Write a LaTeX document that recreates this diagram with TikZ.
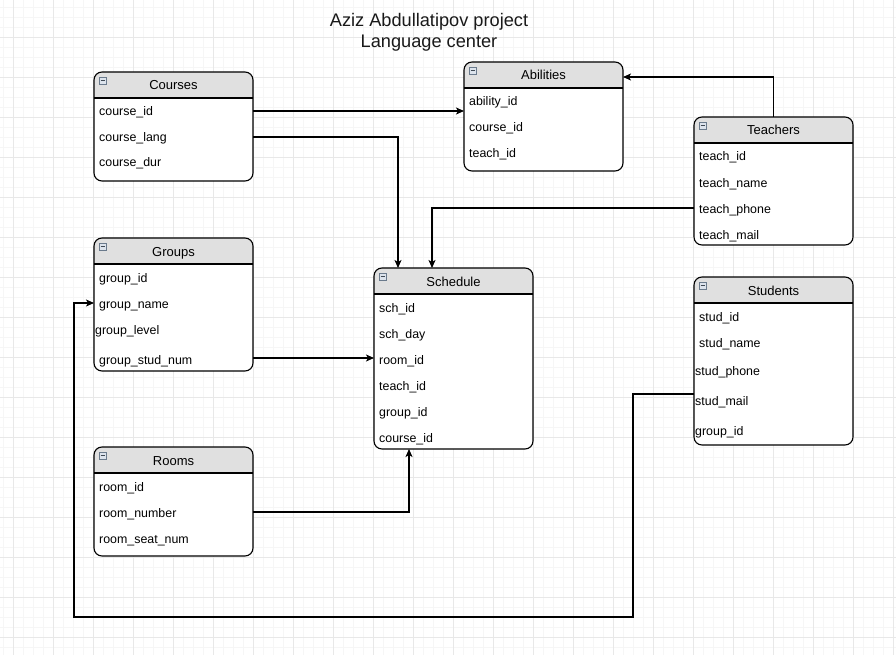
\documentclass[tikz,border=0pt]{standalone}
\usepackage{fontspec}
\setmainfont{Liberation Sans}
\usetikzlibrary{arrows.meta}
\definecolor{headfill}{HTML}{E0E0E0}
\definecolor{gridminor}{HTML}{F6F6F6}
\definecolor{gridmajor}{HTML}{E8E8E8}
\definecolor{iconfill}{HTML}{DCE3EC}
\definecolor{iconline}{HTML}{6A7A8C}
\tikzset{
  tbl/.style={rectangle, rounded corners=8pt, fill=white, minimum width=159pt, inner sep=0pt, outer sep=0pt},
  fld/.style={anchor=base west, inner sep=0pt, font=\fontsize{12.4}{14}\selectfont},
  ttl/.style={anchor=base, inner sep=0pt, font=\fontsize{13}{15}\selectfont},
  conn/.style={line width=1.1pt, -{Stealth[length=8pt,width=7pt,inset=2pt]}},
}
\newcommand{\ertable}[5]{%
  \node[tbl, minimum height=#4pt, anchor=north west] (#1) at (#2,#3) {};
  \begin{scope}
    \clip (#2,#3) rectangle ++(159,26);
    \fill[headfill, rounded corners=8pt] (#2,#3) rectangle ++(159,40);
  \end{scope}
  \draw[line width=1.1pt, rounded corners=8pt] (#1.north west) rectangle (#1.south east);
  \draw[line width=1.1pt] (#2,#3+26) -- ++(159,0);
  \draw[iconline, fill=iconfill, line width=0.6pt] (#2+5,#3+5) rectangle ++(7,7);
  \draw[iconline!60!black, line width=0.8pt] (#2+6.5,#3+8.5) -- ++(4,0);
  \node[ttl] (#1-title) at (#2+79.5,#3+18) {#5};
}
\begin{document}
\begin{tikzpicture}[x=1pt, y=-1pt]
\useasboundingbox (0,0) rectangle (896,655);
\fill[white] (0,0) rectangle (896,655);
% grid
\foreach \gx in {3,13,...,893} \draw[gridminor, line width=0.8pt] (\gx,0) -- (\gx,655);
\foreach \gy in {7,17,...,653} \draw[gridminor, line width=0.8pt] (0,\gy) -- (896,\gy);
\foreach \gx in {13,53,...,893} \draw[gridmajor, line width=0.8pt] (\gx,0) -- (\gx,655);
\foreach \gy in {37,77,...,653} \draw[gridmajor, line width=0.8pt] (0,\gy) -- (896,\gy);

% title
\node[align=center, inner sep=0pt, font=\fontsize{18.2}{21}\selectfont, text=black!90] (title) at (429,32.5) {Aziz Abdullatipov project\\Language center};

% tables
\ertable{courses}{94}{72}{109}{Courses}
\node[fld] (c-id) at (99,116) {course\_id};
\node[fld] (c-lang) at (99,142) {course\_lang};
\node[fld] (c-dur) at (99,167) {course\_dur};

\ertable{abilities}{464}{62}{109}{Abilities}
\node[fld] (a-id) at (469,106) {ability\_id};
\node[fld] (a-course) at (469,132) {course\_id};
\node[fld] (a-teach) at (469,158) {teach\_id};

\ertable{teachers}{694}{117}{128}{Teachers}
\node[fld] (t-id) at (699,161) {teach\_id};
\node[fld] (t-name) at (699,187) {teach\_name};
\node[fld] (t-phone) at (699,213) {teach\_phone};
\node[fld] (t-mail) at (699,239) {teach\_mail};

\ertable{groups}{94}{238}{133}{Groups}
\node[fld] (g-id) at (99,282) {group\_id};
\node[fld] (g-name) at (99,308) {group\_name};
\node[fld] (g-level) at (95,334) {group\_level};
\node[fld] (g-num) at (99,364) {group\_stud\_num};

\ertable{schedule}{374}{268}{181}{Schedule}
\node[fld] (s-id) at (379,312) {sch\_id};
\node[fld] (s-day) at (379,338) {sch\_day};
\node[fld] (s-room) at (379,364) {room\_id};
\node[fld] (s-teach) at (379,390) {teach\_id};
\node[fld] (s-group) at (379,416) {group\_id};
\node[fld] (s-course) at (379,442) {course\_id};

\ertable{students}{694}{277}{168}{Students}
\node[fld] (st-id) at (699,321) {stud\_id};
\node[fld] (st-name) at (699,347) {stud\_name};
\node[fld] (st-phone) at (695,375) {stud\_phone};
\node[fld] (st-mail) at (695,405) {stud\_mail};
\node[fld] (st-group) at (695,435) {group\_id};

\ertable{rooms}{94}{447}{109}{Rooms}
\node[fld] (r-id) at (99,491) {room\_id};
\node[fld] (r-num) at (99,517) {room\_number};
\node[fld] (r-seat) at (99,543) {room\_seat\_num};

% connector helper coordinates
\coordinate (y-cid) at (0,111);
\coordinate (y-clang) at (0,137);
\coordinate (y-ab) at (0,77);
\coordinate (y-tphone) at (0,208);
\coordinate (y-gnum) at (0,358);
\coordinate (y-rnum) at (0,512);
\coordinate (y-smail) at (0,394);
\coordinate (y-gname) at (0,303);
\coordinate (loopR) at (633,617);
\coordinate (loopL) at (74,617);

% connectors
\draw[conn] (courses.east |- y-cid) -- (abilities.west |- y-cid);
\draw[conn] (courses.east |- y-clang) -| ([xshift=-55.5pt]schedule.north);
\draw[conn] (teachers.north) |- (abilities.east |- y-ab);
\draw[conn] (teachers.west |- y-tphone) -| ([xshift=-21.5pt]schedule.north);
\draw[conn] (groups.east |- y-gnum) -- (schedule.west |- y-gnum);
\draw[conn] (rooms.east |- y-rnum) -| ([xshift=-44.5pt]schedule.south);
\draw[conn] (students.west |- y-smail) -| (loopR) -- (loopL) |- (groups.west |- y-gname);
\end{tikzpicture}
\end{document}
